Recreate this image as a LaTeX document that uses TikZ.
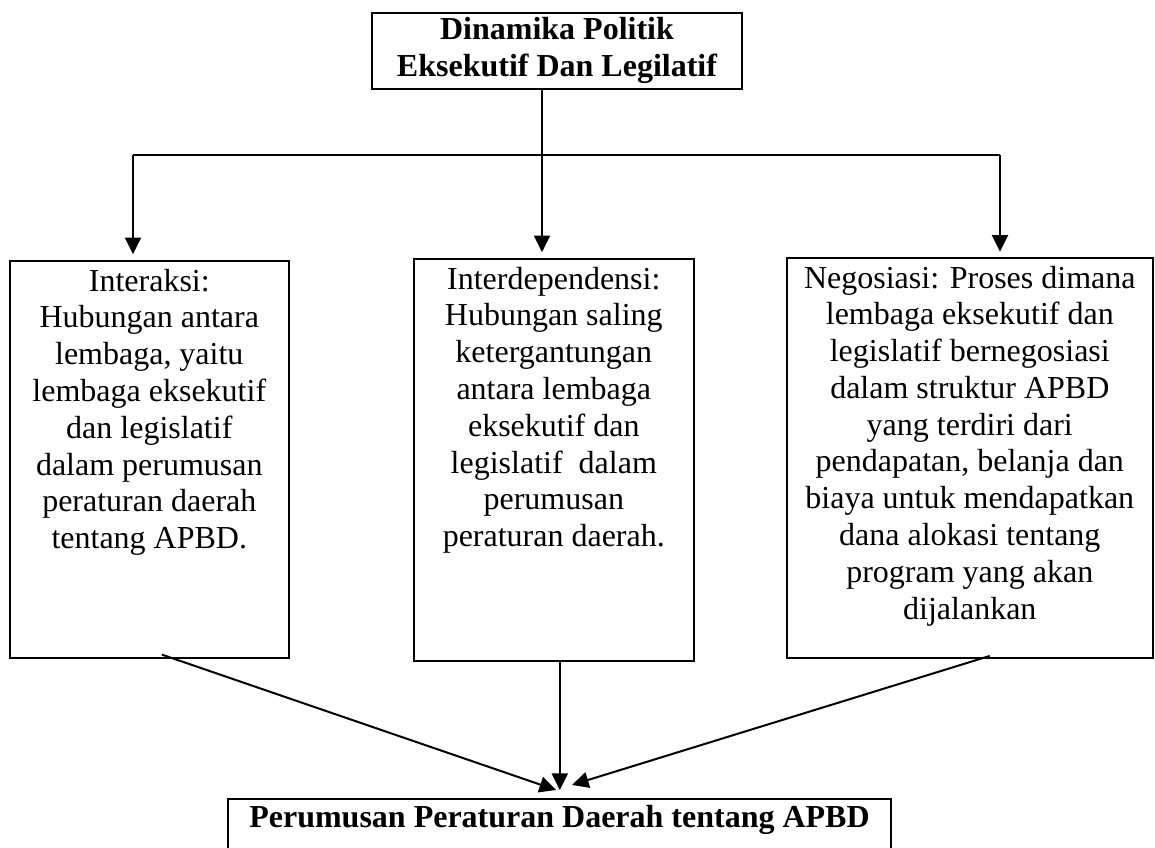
\documentclass[tikz,border=0pt]{standalone}
\usepackage{fontspec}
\setmainfont{Liberation Serif}
\usetikzlibrary{arrows.meta}

\newdimen\pxu
\pxu=0.375pt
\newcommand{\panel}[3]{\parbox[c][#2\pxu][t]{#1\pxu}{\centering\vspace{3pt}#3}}

\begin{document}
\begin{tikzpicture}[x=0.375pt, y=-0.375pt]

\tikzset{box/.style = {draw, line width=0.6pt, inner sep=0pt, anchor=north west, font=\fontsize{12}{13.8}\selectfont}}
\tikzset{edge/.style = {line width=0.75pt, -{Triangle[length=6.2pt,width=6pt]}}}

\clip (0,0) rectangle (1155,848);
%boxes
\node[draw, line width=0.6pt, anchor=north, minimum width=138.75pt, minimum height=28.5pt, inner ysep=1pt, align=center, font=\fontsize{12}{13.8}\selectfont\bfseries] (dinamika) at (557,12) {Dinamika Politik\\Eksekutif Dan Legilatif};
\node[box] (interaksi) at (9,260) {\panel{279}{397}{Interaksi:\\Hubungan antara\\lembaga, yaitu\\lembaga eksekutif\\dan legislatif\\dalam perumusan\\peraturan daerah\\tentang APBD.}};
\node[box] (interdep) at (413,258) {\panel{280}{402}{Interdependensi:\\Hubungan saling\\ketergantungan\\antara lembaga\\eksekutif dan\\legislatif\ \ dalam\\perumusan\\peraturan daerah.}};
\node[box] (negosiasi) at (786,257) {\panel{366}{400}{Negosiasi: Proses dimana\\lembaga eksekutif dan\\legislatif bernegosiasi\\dalam struktur APBD\\yang terdiri dari\\pendapatan, belanja dan\\biaya untuk mendapatkan\\dana alokasi tentang\\program yang akan\\dijalankan}};
\node[draw, line width=0.6pt, anchor=north, minimum width=248.6pt, inner ysep=2.5pt, text height=8.4pt, text depth=14pt, font=\fontsize{12}{13.8}\selectfont\bfseries] (perumusan) at (559.5,798) {Perumusan Peraturan Daerah tentang APBD};

%edges
\coordinate (barL) at (133,155);
\coordinate (barM) at (542,155);
\coordinate (barR) at (1000,155);
\draw[line width=0.75pt] (barL) -- (barR);
\draw[edge, shorten >=2.2pt] (dinamika.south -| barM) -- (barM |- interdep.north);
\draw[edge, shorten >=2.2pt] (barL) -- (barL |- interaksi.north);
\draw[edge, shorten >=2pt] (barR) -- (barR |- negosiasi.north);

\coordinate (pM) at ([xshift=2.25pt]interdep.south);
\draw[edge] ([xshift=4.7pt,yshift=1.5pt]interaksi.south) -- ([xshift=-1.3pt,yshift=3pt]perumusan.north);
\draw[edge, shorten >=3pt] (pM) -- (pM |- perumusan.north);
\draw[edge] ([xshift=7.5pt,yshift=1pt]negosiasi.south) -- ([xshift=4.7pt,yshift=4.9pt]perumusan.north);

\end{tikzpicture}
\end{document}
